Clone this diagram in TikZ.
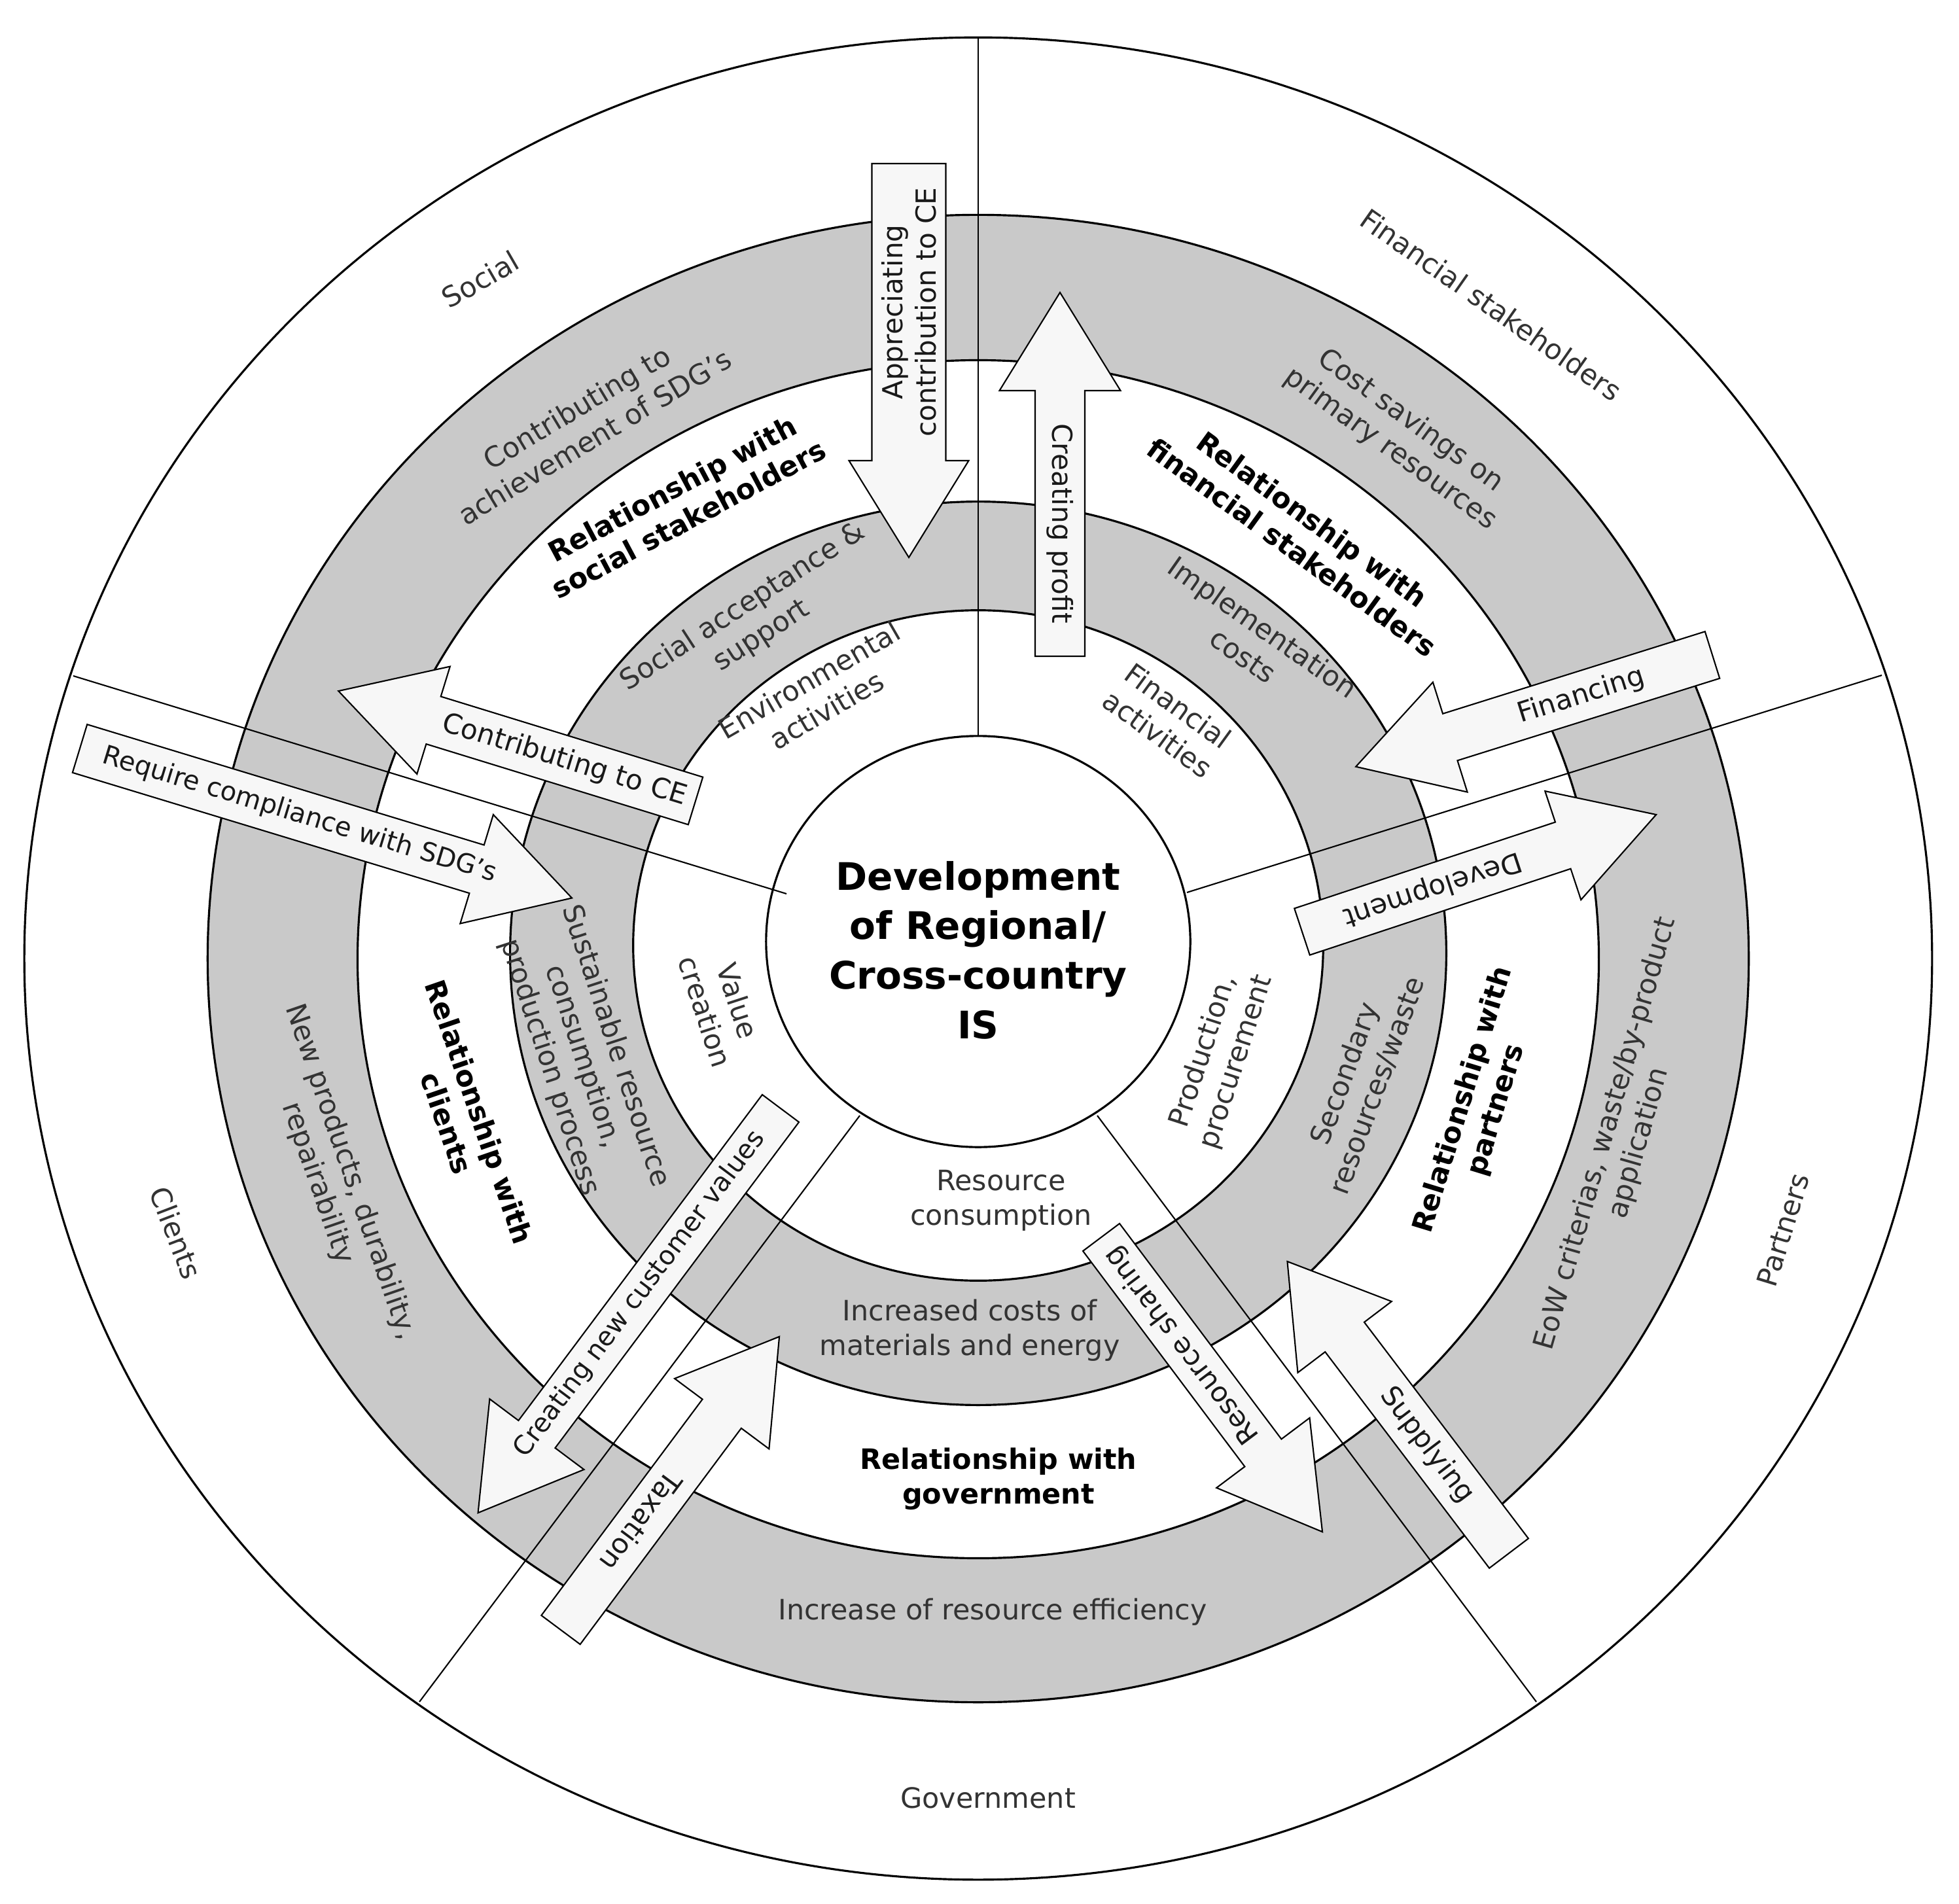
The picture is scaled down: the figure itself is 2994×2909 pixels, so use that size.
\documentclass[tikz,border=0pt]{standalone}
\usepackage{fontspec}
\setmainfont{DejaVu Sans}
\definecolor{ringgray}{HTML}{C9C9C9}
\definecolor{arrowfill}{HTML}{F7F7F7}
\newcommand\blockarrow[8]{%
\begin{scope}[shift={(#2,-#3)},rotate=#4]
\draw[barrow] (0,-#6) -- ({#5-#8},-#6) -- ({#5-#8},-#7) -- (#5,0) -- ({#5-#8},#7) -- ({#5-#8},#6) -- (0,#6) -- cycle;
\coordinate (#1) at ({(#5-#8)/2},0);
\end{scope}}
\begin{document}
\begin{tikzpicture}[x=0.01cm,y=0.01cm,
  ring/.style={draw=black,line width=0.9pt},
  divl/.style={draw=black,line width=0.6pt},
  barrow/.style={draw=black,line width=0.6pt,fill=arrowfill},
  txt/.style={font=\fontsize{12.2}{15}\selectfont,align=center,text=black!80,inner sep=0pt},
  atxt/.style={font=\fontsize{12}{14.5}\selectfont,align=center,text=black!90,inner sep=0pt},
  stxt/.style={font=\fontsize{11.4}{14}\selectfont,align=center,text=black!90,inner sep=0pt},
  bld/.style={font=\fontsize{12.2}{15}\selectfont\bfseries,align=center,text=black,inner sep=0pt},
  title/.style={font=\fontsize{16.5}{21.5}\selectfont\bfseries,align=center,text=black,inner sep=0pt}]
\useasboundingbox (0,0) rectangle (2994,-2909);
\fill[white] (0,0) rectangle (2994,-2909);
% rings
\draw[ring,fill=white] (1495,-1465) ellipse [x radius=14.57cm, y radius=14.07cm];
\draw[ring,fill=ringgray] (1495,-1465) ellipse [x radius=11.77cm, y radius=11.36cm];
\draw[ring,fill=white] (1495,-1466) ellipse [x radius=9.48cm, y radius=9.15cm];
\draw[ring,fill=ringgray] (1495,-1457) ellipse [x radius=7.15cm, y radius=6.90cm];
\draw[ring,fill=white] (1495,-1445) ellipse [x radius=5.27cm, y radius=5.12cm];
\draw[ring,fill=white] (1495,-1439) ellipse [x radius=3.24cm, y radius=3.14cm];
% dividing lines
\coordinate (d1a) at (1495,-1125); \coordinate (d1b) at (1495,-57);
\coordinate (d2a) at (1814,-1364); \coordinate (d2b) at (2876,-1032);
\coordinate (d3a) at (1202,-1366); \coordinate (d3b) at (112,-1033);
\coordinate (d4a) at (1314,-1705); \coordinate (d4b) at (641,-2601);
\coordinate (d5a) at (1677,-1705); \coordinate (d5b) at (2348,-2601);
\draw[divl] (d1a) -- (d1b);
\draw[divl] (d2a) -- (d2b);
\draw[divl] (d3a) -- (d3b);
\draw[divl] (d4a) -- (d4b);
\draw[divl] (d5a) -- (d5b);
% center
\node[title] (center) at (1495,-1452) {Development\\of Regional/\\Cross-country\\IS};
% outer labels
\node[txt,rotate=30] (social) at (734,-427) {Social};
\node[txt,rotate=-35] (fin) at (2279,-466) {Financial stakeholders};
\node[txt,rotate=73] (partners) at (2725,-1880) {Partners};
\node[txt] (gov) at (1510,-2748) {Government};
\node[txt,rotate=-69] (clients) at (269,-1884) {Clients};
% outer gray ring
\node[txt,rotate=31] (sdg) at (895,-645) {Contributing to\\achievement of SDG's};
\node[txt,rotate=-36] (cost) at (2140,-665) {Cost savings on\\primary resources};
\node[txt,rotate=74] (eow) at (2480,-1740) {EoW criterias, waste/by-product\\application};
\node[txt] (eff) at (1517,-2464) {Increase of resource efficiency};
\node[txt,rotate=-71] (newp) at (510,-1800) {New products, durability,\\repairability};
% white ring bold
\node[bld,rotate=28] (rsoc) at (1040,-770) {Relationship with\\social stakeholders};
\node[bld,rotate=-36] (rfin) at (1990,-815) {Relationship with\\financial stakeholders};
\node[bld,rotate=73] (rpar) at (2262,-1689) {Relationship with\\partners};
\node[bld] (rgov) at (1526,-2260) {Relationship with\\government};
\node[bld,rotate=-71] (rcli) at (708,-1708) {Relationship with\\clients};
% inner gray ring
\node[txt,rotate=33] (sacc) at (1150,-950) {Social acceptance \&\\support};
\node[txt,rotate=-35] (impl) at (1915,-980) {Implementation\\costs};
\node[txt,rotate=70] (sec) at (2080,-1650) {Secondary\\resources/waste};
\node[txt] (incr) at (1482,-2033) {Increased costs of\\materials and energy};
\node[txt,rotate=-72] (sust) at (890,-1615) {Sustainable resource\\consumption,\\production process};
% inner white ring
\node[txt,rotate=30] (env) at (1250,-1062) {Environmental\\activities};
\node[txt,rotate=-36] (fina) at (1785,-1100) {Financial\\activities};
\node[txt,rotate=72] (prod) at (1865,-1615) {Production,\\procurement};
\node[txt] (rcons) at (1530,-1835) {Resource\\consumption};
\node[txt,rotate=-72] (val) at (1103,-1538) {Value\\creation};
% arrows
\blockarrow{a1}{1389}{250}{-90}{602}{56.5}{91.5}{148}
\node[atxt,rotate=90] (t1) at (a1) {Appreciating\\contribution to CE};
\blockarrow{a2}{1620}{1003}{90}{556}{38}{92.5}{150}
\node[atxt,rotate=-90] (t2) at (a2) {Creating profit};
\blockarrow{a3}{2617}{1001}{197.4}{571}{37.5}{88}{151}
\node[atxt,rotate=17.4] (t3) at (a3) {Financing};
\blockarrow{a4}{1990}{1424}{18.3}{570}{37.5}{87.5}{150}
\node[atxt,rotate=198.3] (t4) at (a4) {Development};
\blockarrow{a5}{2306}{2374}{127.2}{560}{37.5}{90}{145}
\node[atxt,rotate=-52.8] (t5) at (a5) {Supplying};
\blockarrow{a6}{1683}{1891}{-53.1}{563}{35}{89}{151}
\node[atxt,rotate=126.9] (t6) at (a6) {Resource sharing};
\blockarrow{a7}{857}{2491}{53.3}{559}{37}{90}{147}
\node[atxt,rotate=233.3] (t7) at (a7) {Taxation};
\blockarrow{a8}{1193}{1694}{233.2}{772}{35}{90}{150}
\node[stxt,rotate=53.2] (t8) at (978,-1978) {Creating new customer values};
\blockarrow{a9}{122}{1144}{-16.9}{786}{38.5}{87}{152}
\node[stxt,rotate=-16.9] (t9) at (458,-1246) {Require compliance with SDG's};
\blockarrow{a10}{1063}{1224}{162.9}{571}{38}{86}{152}
\node[atxt,rotate=-17.1] (t10) at (a10) {Contributing to CE};
\end{tikzpicture}
\end{document}
